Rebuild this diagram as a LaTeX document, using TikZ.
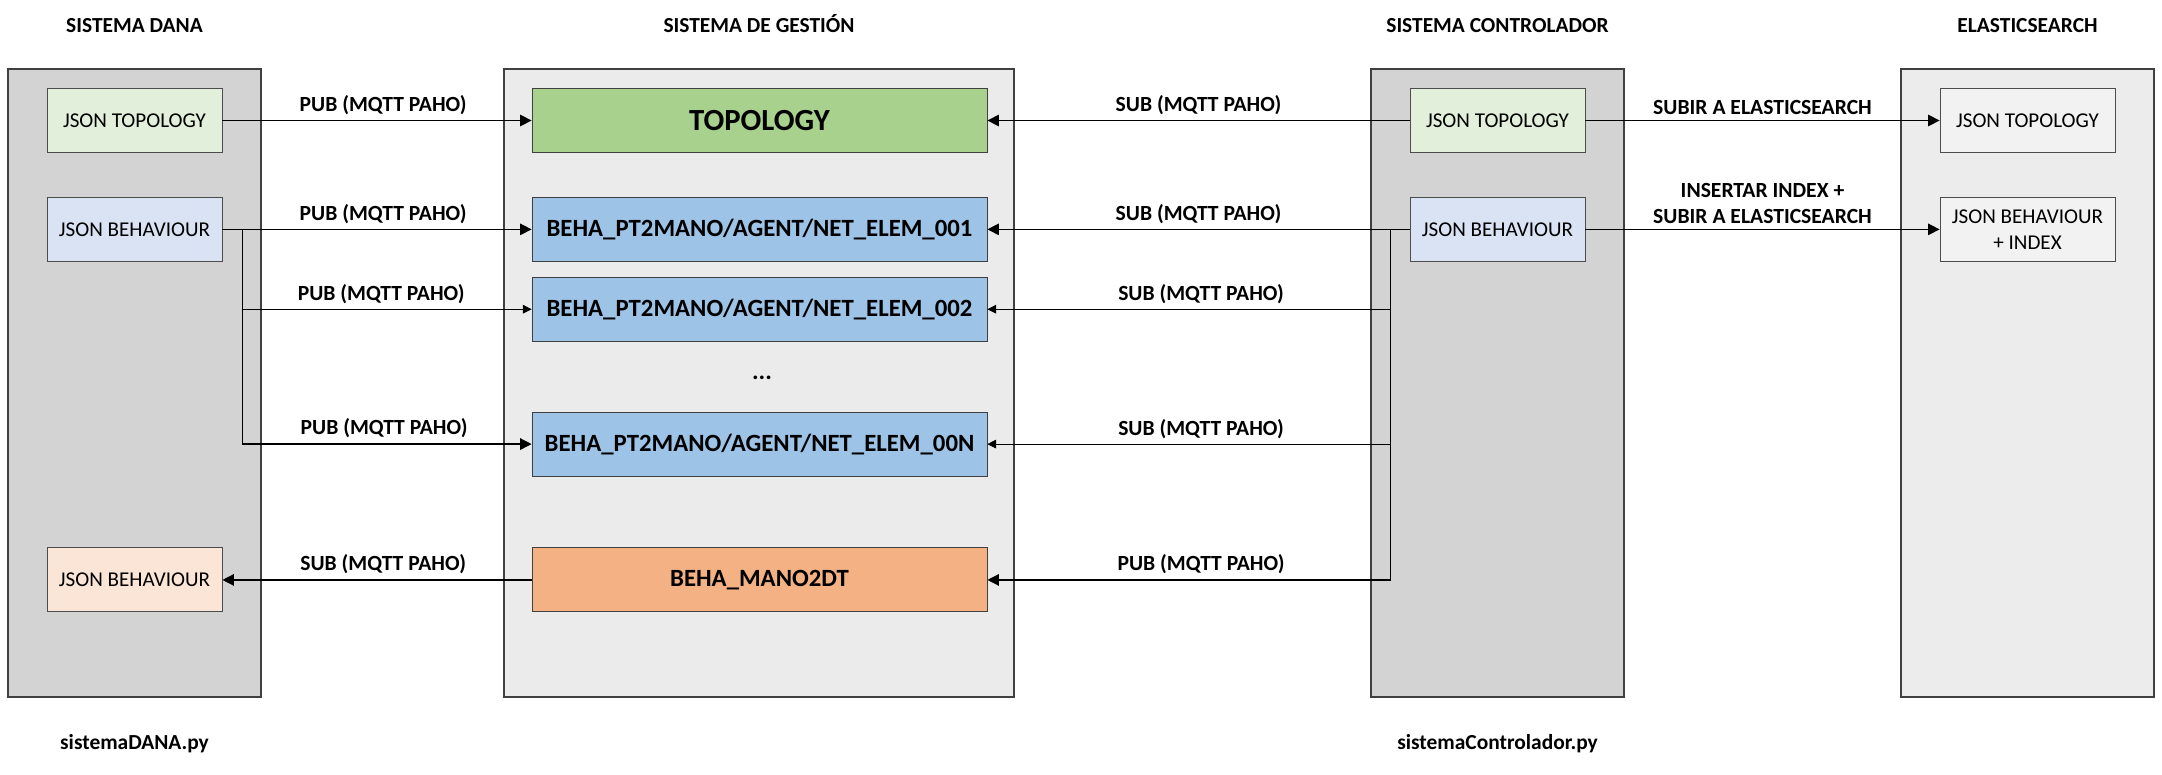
\documentclass[tikz,border=0pt]{standalone}
\usepackage{fontspec}
\setmainfont{Carlito}
\usetikzlibrary{arrows.meta,positioning}

\definecolor{darksys}{HTML}{D3D3D3}
\definecolor{lightsys}{HTML}{EBEBEB}
\definecolor{elasys}{HTML}{ECECEC}
\definecolor{elabox}{HTML}{F2F2F2}
\definecolor{jsongreen}{HTML}{E2EFDA}
\definecolor{jsonblue}{HTML}{DAE3F3}
\definecolor{jsonorange}{HTML}{FBE5D6}
\definecolor{topogreen}{HTML}{A9D18E}
\definecolor{behablue}{HTML}{9DC3E6}
\definecolor{manoorange}{HTML}{F4B183}

\begin{document}
\begin{tikzpicture}[x=0.02cm,y=-0.02cm,>={Triangle[length=6.5pt,width=6.5pt]},
  sys/.style={draw=black!75,line width=0.7pt,minimum width=#1,minimum height=12.56cm},
  box/.style={draw=black!70,line width=0.5pt,minimum width=3.5cm,minimum height=1.28cm,inner sep=1pt,
    align=center,font=\fontsize{12}{15}\selectfont},
  topic/.style={draw=black!75,line width=0.5pt,minimum width=9.1cm,minimum height=1.28cm,
    font=\fontsize{14.1}{17}\selectfont\bfseries},
  title/.style={font=\fontsize{12.2}{14}\selectfont\bfseries},
  lbl/.style={font=\fontsize{12.3}{14.5}\selectfont\bfseries,above,inner sep=3pt,align=center},
  wire/.style={line width=0.75pt},
  thinwire/.style={line width=0.4pt,>={Triangle[length=5pt,width=5pt]}}]

  \path[use as bounding box,fill=white] (0,0) rectangle (2162,774);

  % the four systems
  \node[sys=5.06cm,fill=darksys]  (dana)    at (134.5,383)  {};
  \node[sys=10.2cm,fill=lightsys] (gestion) at (759,383)    {};
  \node[sys=5.06cm,fill=darksys]  (ctrl)    at (1497.5,383) {};
  \node[sys=5.06cm,fill=elasys]   (elastic) at (2027.5,383) {};

  \node[title,above=0.6cm of dana]    (tdana)    {SISTEMA DANA};
  \node[title,above=0.6cm of gestion] (tgestion) {SISTEMA DE GESTIÓN};
  \node[title,above=0.6cm of ctrl]    (tctrl)    {SISTEMA CONTROLADOR};
  \node[title,above=0.6cm of elastic] (telastic) {ELASTICSEARCH};
  \node[title,below=0.62cm of dana]   (pydana)   {sistemaDANA.py};
  \node[title,below=0.62cm of ctrl]   (pyctrl)   {sistemaControlador.py};

  % topics
  \node[topic,fill=topogreen,font=\fontsize{17.5}{20}\selectfont\bfseries] (gtopo) at (759.5,120.5) {TOPOLOGY};
  \node[topic,fill=behablue]   (g001)  [below=0.88cm of gtopo] {BEHA\_PT2MANO/AGENT/NET\_ELEM\_001};
  \node[topic,fill=behablue]   (g002)  [below=0.3cm of g001]   {BEHA\_PT2MANO/AGENT/NET\_ELEM\_002};
  \node[topic,fill=behablue]   (g00N)  [below=1.4cm of g002]   {BEHA\_PT2MANO/AGENT/NET\_ELEM\_00N};
  \node[topic,fill=manoorange] (gmano) [below=1.42cm of g00N]  {BEHA\_MANO2DT};
  \node[font=\fontsize{14.1}{17}\selectfont\bfseries] (dots) at (762,378) {...};

  % json files
  \node[box,fill=jsongreen]  (dtopo) at (dana |- gtopo)    {JSON TOPOLOGY};
  \node[box,fill=jsonblue]   (dbeh)  at (dana |- g001)     {JSON BEHAVIOUR};
  \node[box,fill=jsonorange] (dout)  at (dana |- gmano)    {JSON BEHAVIOUR};
  \node[box,fill=jsongreen]  (ctopo) at (ctrl |- gtopo)    {JSON TOPOLOGY};
  \node[box,fill=jsonblue]   (cbeh)  at (ctrl |- g001)     {JSON BEHAVIOUR};
  \node[box,fill=elabox]     (etopo) at (elastic |- gtopo) {JSON TOPOLOGY};
  \node[box,fill=elabox]     (ebeh)  at (elastic |- g001)  {JSON BEHAVIOUR\\+ INDEX};

  \coordinate (dsplit) at ([xshift=0.4cm]dbeh.east);
  \coordinate (csplit) at ([xshift=-0.38cm]cbeh.west);

  % dana <-> gestion
  \draw[wire,->] (dtopo) -- node[lbl,pos=0.52] {PUB (MQTT PAHO)} (gtopo);
  \draw[wire,->] (dbeh) -- node[lbl,pos=0.52] {PUB (MQTT PAHO)} (g001);
  \draw[thinwire,->] (dsplit |- g002) -- node[lbl,pos=0.48] {PUB (MQTT PAHO)} (g002);
  \draw[wire,->] (dsplit) |- node[lbl,pos=0.745] {PUB (MQTT PAHO)} (g00N);
  \draw[wire,->] (gmano) -- node[lbl,pos=0.48] {SUB (MQTT PAHO)} (dout);

  % controlador <-> gestion
  \draw[wire,->] (ctopo) -- node[lbl,pos=0.5] {SUB (MQTT PAHO)} (gtopo);
  \draw[wire,->] (cbeh) -- node[lbl,pos=0.5] {SUB (MQTT PAHO)} (g001);
  \draw[thinwire,->] (csplit |- g002) -- node[lbl,pos=0.47] {SUB (MQTT PAHO)} (g002);
  \draw[thinwire,->] (csplit |- g00N) -- node[lbl,pos=0.47] {SUB (MQTT PAHO)} (g00N);
  \draw[wire,->] (csplit) |- node[lbl,pos=0.735] {PUB (MQTT PAHO)} (gmano);

  % controlador -> elasticsearch
  \draw[wire,->] (ctopo) -- node[lbl] {SUBIR A ELASTICSEARCH} (etopo);
  \draw[wire,->] (cbeh) -- node[lbl] {INSERTAR INDEX +\\SUBIR A ELASTICSEARCH} (ebeh);
\end{tikzpicture}
\end{document}
